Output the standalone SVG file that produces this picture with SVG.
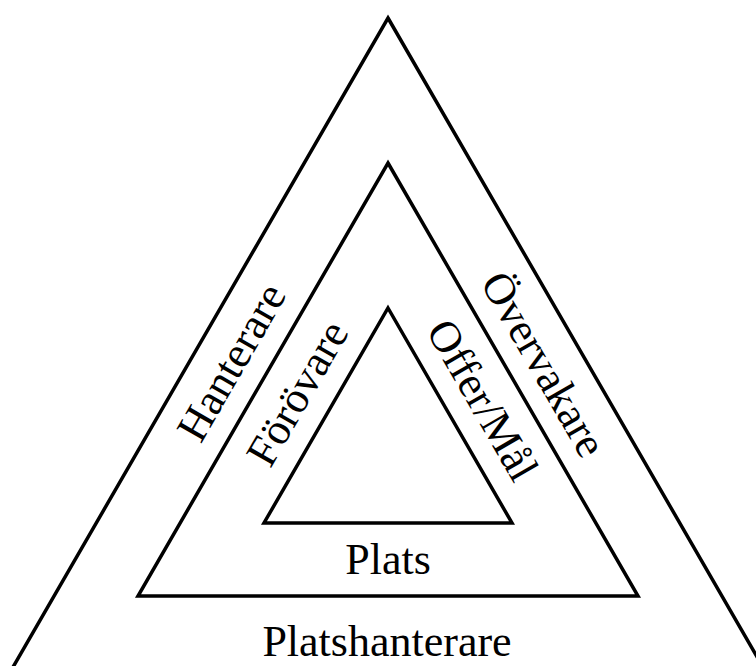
<svg xmlns="http://www.w3.org/2000/svg" width="756" height="666" viewBox="0 0 756 666">
<style>
.tri{fill:none;stroke:#000;stroke-width:3.5;stroke-linejoin:miter;stroke-miterlimit:10}
.lbl{font-family:"Liberation Serif","Times New Roman",serif;font-size:44px;fill:#000;text-anchor:middle}
</style>
<rect width="756" height="666" fill="#fff"/>
<g id="outer"><polygon class="tri" points="388,18 782,700 -6,700"/></g>
<g id="middle"><polygon class="tri" points="388,163 638,596 138,596"/></g>
<g id="inner"><polygon class="tri" points="388,308 512,523 264,523"/></g>
<g id="labels">
<text class="lbl" transform="translate(231,362) rotate(-60)" x="0" y="15">Hanterare</text>
<text class="lbl" transform="translate(297,393) rotate(-60)" x="0" y="15">Förövare</text>
<text class="lbl" transform="translate(544,364) rotate(60)" x="0" y="15">Övervakare</text>
<text class="lbl" transform="translate(483,400) rotate(60)" x="0" y="15">Offer/Mål</text>
<text class="lbl" x="388" y="574">Plats</text>
<text class="lbl" x="387" y="656">Platshanterare</text>
</g>
</svg>
